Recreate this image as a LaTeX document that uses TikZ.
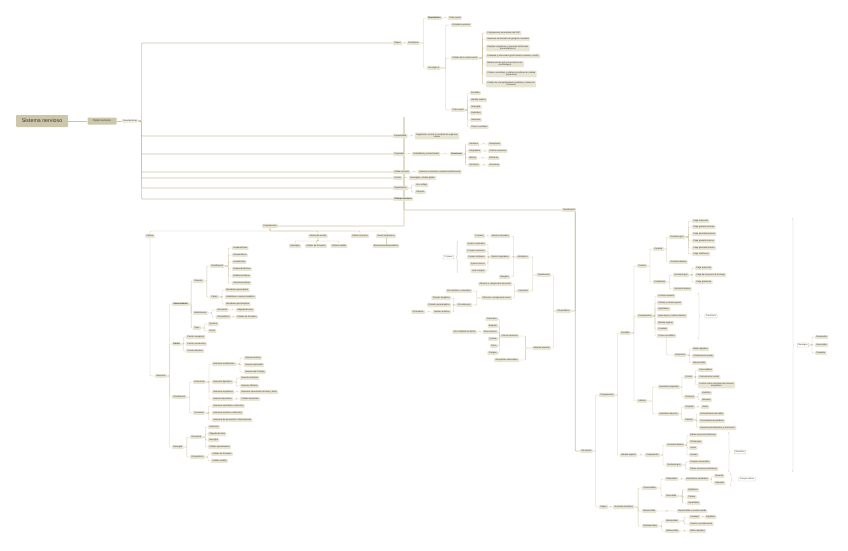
\documentclass[tikz,border=0pt]{standalone}
\usepackage{fontspec}
\setmainfont{Liberation Sans}
\usetikzlibrary{calc, backgrounds, decorations.pathreplacing}
\definecolor{MapLine}{HTML}{CDC4A5}
\definecolor{MapFill}{HTML}{E9E5D5}
\definecolor{MapRoot}{HTML}{CCC6AA}
\definecolor{MapSoft}{HTML}{F0EDE3}
\definecolor{MapText}{HTML}{3A3832}
\tikzset{
    % Topic boxes - soft rounded corners
    topic/.style={
        rectangle,
        rounded corners=0.8mm,
        fill=MapFill,
        text=MapText,
        font=\fontsize{6}{6.6}\selectfont,
        inner xsep=1.3mm,
        inner ysep=1.1mm,
        align=center
    },
    rtopic/.style={topic, anchor=west},
    ltopic/.style={topic, anchor=east},
    rkey/.style={rtopic, font=\fontsize{6}{6.6}\selectfont\bfseries},
    rootbox/.style={
        topic,
        fill=MapRoot,
        minimum width=52mm,
        minimum height=12mm,
        font=\fontsize{15}{16}\selectfont
    },
    mainbox/.style={
        topic,
        fill=MapRoot,
        minimum width=29mm,
        minimum height=7mm,
        font=\fontsize{7.5}{8}\selectfont
    },
    summary/.style={topic, fill=white, draw=MapLine, line width=0.3mm},
    % Connectors - elbow lines
    plainline/.style={draw=MapLine, line width=0.3mm, rounded corners=0.8mm},
    link/.style={
        plainline,
        to path={-| ($(\tikztostart)!.5!(\tikztotarget)$) |- (\tikztotarget)}
    },
    mainlink/.style={link, line width=0.6mm},
    elbow/.style={
        draw=MapLine,
        line width=0.6mm,
        rounded corners=1mm,
        to path={-- ++(#1,0) |- (\tikztotarget)}
    },
    downlink/.style={
        plainline,
        to path={|- ($(\tikztostart)!.5!(\tikztotarget)$) -| (\tikztotarget)}
    },
    summarybrace/.style={
        draw=MapLine,
        line width=0.3mm,
        decorate,
        decoration={brace, amplitude=1.8mm}
    }
}

\begin{document}
\begin{tikzpicture}[x=1mm, y=-1mm]
    \useasboundingbox (0,0) rectangle (848,550);

    % root and first level
    \node[rootbox] (root) at (42,121) {Sistema nervioso};
    \node[mainbox] (tejido) at (102,121) {Tejido nervioso};
    \node[topic, fill=MapSoft] (caract) at (130,121) {Características};

    \node[rtopic] (origen) at (393,43) {Origen};
    \node[rtopic] (especial) at (393,136) {Especialidad};
    \node[rtopic] (propiedad) at (393,154) {Propiedad};
    \node[rtopic] (celula) at (393,172) {Célula nerviosa};
    \node[rtopic] (sosten) at (393,178) {Sostén};
    \node[rtopic] (organiza) at (393,188) {Organización};
    \node[rkey] (snbold) at (393,199) {Sistema nervioso};
    \coordinate (snup) at (404,117);

    % Origen
    \node[rtopic] (ecto) at (407,43) {Ectodermo};
    \node[rkey] (neurula) at (427,18) {Neurulación};
    \node[rtopic] (tubo1) at (448,18) {Tubo neural};
    \node[rtopic] (daorigen) at (427,68) {Da origen a};
    \node[rtopic] (ectext) at (451,25) {Ectodermo externo};
    \node[rtopic] (cresta) at (451,58) {Células de la cresta neural};
    \node[rtopic] (tubo2) at (451,110) {Tubo neural};

    \node[rtopic] (cr1) at (486,33) {Componentes sensoriales del SNP};
    \node[rtopic] (cr2) at (486,39) {Neuronas sensoriales de ganglios craneales};
    \node[rtopic] (cr3) at (486,48) {Ganglios simpáticos y neuronas autónomas\\(parasimpáticos)};
    \node[rtopic] (cr4) at (486,56) {Piamadre y aracnoides (parte anterior cabeza y cuello)};
    \node[rtopic] (cr5) at (486,64) {Melanocitos de piel y mucosas (oral y\\nasofaringea)};
    \node[rtopic] (cr6) at (486,74) {Células cromafines y células cromafines de médula\\suprarrenal};
    \node[rtopic] (cr7) at (486,84) {Células de acompañamiento (satélites y células de\\Schwann)};

    \node[rtopic] (tn1) at (470,93) {Encéfalo};
    \node[rtopic] (tn2) at (470,100) {Médula espinal};
    \node[rtopic] (tn3) at (470,107) {Neuroglia};
    \node[rtopic] (tn4) at (470,113) {Epéndimo};
    \node[rtopic] (tn5) at (470,120) {Neuronas};
    \node[rtopic] (tn6) at (470,127) {Plexos coroideos};

    % Especialidad, Propiedad, Organizacion
    \node[rtopic] (regula) at (415,136) {Regulación, control y coordinación orgánica,\\reposo};
    \node[rtopic] (irrita) at (412,154) {Irritabilidad y conductividad};
    \node[rkey] (funciones) at (450,154) {Funciones};
    \node[rtopic] (sensit) at (468,144) {Sensitiva};
    \node[rtopic] (integ) at (468,151) {Integradora};
    \node[rtopic] (motora) at (468,158) {Motora};
    \node[rtopic] (secret) at (468,165) {Secretora};
    \node[rtopic] (recep) at (488,144) {Receptores};
    \node[rtopic] (centros) at (488,151) {Centros nerviosos};
    \node[rtopic] (efect) at (488,158) {Efectores};
    \node[rtopic] (hormon) at (488,165) {Hormonas};
    \node[rtopic] (neurodef) at (418,172) {Neurona o neurocito, unidad morfofuncional};
    \node[rtopic] (gliadef) at (409,178) {Neuroglias, células gliales};
    \node[rtopic] (arco) at (415,185) {Arco reflejo};
    \node[rtopic] (sinap0) at (415,192) {Sinapsis};

    % Componentes (left part)
    \node[topic] (compL) at (270,226) {Componentes};
    \node[topic] (celulas) at (150,236) {Células};
    \node[topic] (csosten) at (318,236) {Células de sostén};
    \node[topic] (fibras) at (360,236) {Fibras nerviosas};
    \node[topic] (vasos) at (386,236) {Vasos sanguíneos};
    \node[topic] (neuroglS) at (295,246) {Neuroglia};
    \node[topic] (schwS) at (316,246) {Células de Schwann};
    \node[topic] (satelS) at (339,246) {Células satélite};
    \node[topic] (barrera) at (386,246) {Barrera hematoencefálica};

    \node[rtopic] (neuronas) at (155,376) {Neuronas};
    \node[rkey] (general) at (172,304) {Generalidades};
    \node[rkey] (partesN) at (172,344) {Partes};
    \node[rtopic] (clasN) at (172,397) {Clasificación};
    \node[rtopic] (neurogN) at (172,447) {Neuroglia};

    \node[rtopic] (sinapsis) at (193,281) {Sinapsis};
    \node[rtopic] (mielin) at (193,313) {Mielinización};
    \node[rtopic] (tipos) at (193,328) {Tipos};
    \node[rtopic] (clasS) at (210,266) {Clasificación};
    \node[rtopic] (partesS) at (210,297) {Partes};
    \node[rtopic] (sy1) at (232,248) {Axodendríticas};
    \node[rtopic] (sy2) at (232,255) {Axosomáticas};
    \node[rtopic] (sy3) at (232,262) {Axoaxónicas};
    \node[rtopic] (sy4) at (232,269) {Dendrodendríticas};
    \node[rtopic] (sy5) at (232,276) {Dendrosomáticas};
    \node[rtopic] (sy6) at (232,283) {Somatosomáticas};
    \node[rtopic] (mb1) at (225,290) {Membrana presináptica};
    \node[rtopic] (mb2) at (225,297) {Hendidura o espacio sináptico};
    \node[rtopic] (mb3) at (225,304) {Membrana postsináptica};
    \node[rtopic] (sncM) at (216,310) {SN central};
    \node[rtopic] (snpM) at (216,317) {SN periférico};
    \node[rtopic] (oligoM) at (236,310) {Oligodendrocitos};
    \node[rtopic] (schwM) at (236,317) {Células de Schwann};
    \node[rtopic] (quim) at (208,324) {Química};
    \node[rtopic] (fis) at (208,331) {Física};

    \node[rtopic] (po1) at (186,337) {Porción receptora};
    \node[rtopic] (po2) at (186,344) {Porción conductora};
    \node[rtopic] (po3) at (186,351) {Porción efectora};

    \node[rtopic] (estruct) at (193,382) {Estructural};
    \node[rtopic] (funcN) at (193,413) {Funcional};
    \node[rtopic] (multi) at (212,364) {Neuronas multipolares};
    \node[rtopic] (bip) at (212,382) {Neuronas bipolares};
    \node[rtopic] (unip) at (212,392) {Neuronas unipolares};
    \node[rtopic] (anax) at (212,399) {Neurona anaxónica};
    \node[rtopic] (mu1) at (244,358) {Neurona motora};
    \node[rtopic] (mu2) at (244,365) {Neurona piramidal};
    \node[rtopic] (mu3) at (244,372) {Neurona de Purkinje};
    \node[rtopic] (bi1) at (240,378) {Neurona retiniana};
    \node[rtopic] (bi2) at (240,386) {Neurona olfatoria};
    \node[rtopic] (un1) at (240,392) {Neuronas sensoriales de tacto y dolor};
    \node[rtopic] (an1) at (240,399) {Células amacrinas};
    \node[rtopic] (fu1) at (212,406) {Neuronas sensitivas o aferentes};
    \node[rtopic] (fu2) at (212,413) {Neuronas motoras o eferentes};
    \node[rtopic] (fu3) at (212,420) {Neuronas de asociación o interneuronas};

    \node[rtopic] (sncN) at (190,437) {SN central};
    \node[rtopic] (snpN) at (190,457) {SN periférico};
    \node[rtopic] (gc1) at (208,427) {Astrocitos};
    \node[rtopic] (gc2) at (208,434) {Oligodendrocitos};
    \node[rtopic] (gc3) at (208,440) {Microglía};
    \node[rtopic] (gc4) at (208,447) {Células ependimarias};
    \node[rtopic] (gp1) at (211,454) {Células de Schwann};
    \node[rtopic] (gp2) at (211,461) {Células satélite};

    % Clasificacion
    \node[topic] (clasif) at (569,210) {Clasificación};

    % SN periferico (grows to the left)
    \node[ltopic] (snp) at (571,311) {SN periférico};
    \node[ltopic] (clasP) at (551,275) {Clasificación};
    \node[ltopic] (sistP) at (551,348) {Sistema vascular};
    \node[ltopic] (anat) at (529,257) {Anatómica};
    \node[ltopic] (funcP) at (529,291) {Funcional};
    \node[ltopic] (ncran) at (510,236) {Nervios craneales};
    \node[ltopic] (nraq) at (510,257) {Nervios raquídeos};
    \node[ltopic] (gangl) at (510,277) {Ganglios};
    \node[ltopic] (par12) at (485,236) {12 pares};
    \node[ltopic] (rq1) at (486,244) {8 pares cervicales};
    \node[ltopic] (rq2) at (486,251) {12 pares torácicos};
    \node[ltopic] (rq3) at (486,257) {5 pares lumbares};
    \node[ltopic] (rq4) at (486,264) {5 pares sacros};
    \node[ltopic] (rq5) at (486,271) {1 par coxígeo};
    \node[summary, anchor=east] (pares31) at (454,257) {31 pares};
    \node[ltopic] (afer) at (512,284) {Aferente o componente sensorial};
    \node[ltopic] (efer) at (512,298) {Eferente o componente motor};
    \node[ltopic] (snsom) at (472,291) {SN somático o voluntario};
    \node[ltopic] (snaut) at (472,305) {SN autónomo};
    \node[ltopic] (divsim) at (451,298) {División simpática};
    \node[ltopic] (divpar) at (451,305) {División parasimpática};
    \node[ltopic] (divent) at (451,312) {División entérica};
    \node[ltopic] (snent) at (425,312) {SN entérico};
    \node[ltopic] (plexos) at (519,336) {Plexos nerviosos};
    \node[ltopic] (recsen) at (519,360) {Receptores sensoriales};
    \node[ltopic] (px1) at (498,319) {Cervicales};
    \node[ltopic] (px2) at (498,326) {Braquial};
    \node[ltopic] (px3) at (498,332) {Zona torácica};
    \node[ltopic] (px4) at (498,339) {Lumbar};
    \node[ltopic] (px5) at (498,346) {Sacro};
    \node[ltopic] (px6) at (498,353) {Coxígeo};
    \node[ltopic] (noplex) at (477,332) {NO FORMAN PLEXOS};

    % SN central
    \node[rtopic] (snc) at (580,451) {SN central};
    \node[rtopic] (compC) at (599,395) {Componentes};
    \node[rtopic] (origC) at (599,507) {Origen};
    \node[rtopic] (encef) at (620,333) {Encéfalo};
    \node[rtopic] (medula) at (620,455) {Médula espinal};

    \node[rtopic] (corteza) at (637,266) {Corteza};
    \node[rtopic] (compE) at (637,316) {Componentes};
    \node[rtopic] (lobulos) at (637,401) {Lóbulos};
    \node[rtopic] (cerebral) at (653,249) {Cerebral};
    \node[rtopic] (cerebelosa) at (653,282) {Cerebelosa};
    \node[rtopic] (sg1) at (669,237) {Sustancia gris};
    \node[rtopic] (sb1) at (669,262) {Sustancia blanca};
    \node[rtopic] (ca1) at (692,221) {Capa molecular};
    \node[rtopic] (ca2) at (692,227) {Capa granular externa};
    \node[rtopic] (ca3) at (692,234) {Capa piramidal externa};
    \node[rtopic] (ca4) at (692,241) {Capa granular interna};
    \node[rtopic] (ca5) at (692,248) {Capa piramidal interna};
    \node[rtopic] (ca6) at (692,254) {Capa multiforme};
    \node[rtopic] (sg2) at (673,275) {Sustancia gris};
    \node[rtopic] (sb2) at (673,289) {Sustancia blanca};
    \node[rtopic] (ce1) at (695,268) {Capa molecular};
    \node[rtopic] (ce2) at (695,275) {Capa de neuronas de Purkinje};
    \node[rtopic] (ce3) at (695,282) {Capa granulosa};

    \node[rtopic] (en1) at (657,296) {Corteza cerebral};
    \node[rtopic] (en2) at (657,303) {Tálamo y núcleos grises};
    \node[rtopic] (en3) at (657,309) {Hipotálamo};
    \node[rtopic] (en4) at (657,316) {Hipocampo y sistema límbico};
    \node[rtopic] (en5) at (657,323) {Médula espinal};
    \node[rtopic] (en6) at (657,329) {Cerebelo};
    \node[rtopic] (tronco) at (657,336) {Tronco encefálico};
    \node[summary] (funcE) at (711,316) {Funciones};
    \node[rtopic] (estr) at (674,355) {Estructura};
    \node[rtopic] (tr1) at (692,349) {Bulbo raquídeo};
    \node[rtopic] (tr2) at (692,356) {Protuberancia anular};
    \node[rtopic] (tr3) at (692,363) {Mesencéfalo};

    \node[rtopic] (hizq) at (658,387) {Hemisferio izquierdo};
    \node[rtopic] (hder) at (658,414) {Hemisferio derecho};
    \node[rtopic] (frontal) at (684,377) {Frontal};
    \node[rtopic] (temporal) at (684,397) {Temporal};
    \node[rtopic] (occip) at (684,407) {Occipital};
    \node[rtopic] (pariet) at (684,420) {Parietal};
    \node[rtopic] (fr1) at (698,370) {Personalidad};
    \node[rtopic] (fr2) at (698,377) {Comunicación verbal};
    \node[rtopic] (fr3) at (698,385) {Control motor voluntario del músculo\\esquelético};
    \node[rtopic] (te1) at (701,393) {Audición};
    \node[rtopic] (te2) at (701,400) {Memoria};
    \node[rtopic] (oc1) at (701,407) {Visión};
    \node[rtopic] (pa1) at (699,414) {Entendimiento del habla};
    \node[rtopic] (pa2) at (699,421) {Formulación de palabras};
    \node[rtopic] (pa3) at (699,428) {Expresar pensamientos y emociones};

    \node[rtopic] (compos) at (645,455) {Composición};
    \node[rtopic] (sbM) at (666,445) {Sustancia blanca};
    \node[rtopic] (sgM) at (666,465) {Sustancia gris};
    \node[rtopic] (mb1M) at (689,435) {Fibras nerviosas mielínicas};
    \node[rtopic] (mb2M) at (689,442) {Cilindroejes};
    \node[rtopic] (mb3M) at (689,448) {Vasos};
    \node[rtopic] (mb4M) at (689,455) {Axones};
    \node[rtopic] (mg1M) at (689,462) {Cuerpos neuronales};
    \node[rtopic] (mg2M) at (689,469) {Fibras nerviosas amielínicas};
    \node[summary] (envol) at (740,452) {Envoltura};

    \node[rtopic] (vesic) at (613,507) {Vesículas primitivas};
    \node[rtopic] (prosen) at (642,488) {Prosencéfalo};
    \node[rtopic] (mesen) at (642,511) {Mesencéfalo};
    \node[rtopic] (romben) at (642,526) {Rombencéfalo};
    \node[rtopic] (telen) at (665,479) {Telencéfalo};
    \node[rtopic] (dien) at (665,496) {Diencéfalo};
    \node[rtopic] (hemc) at (685,479) {Hemisferios cerebrales};
    \node[rtopic] (hder2) at (714,476) {Derecho};
    \node[rtopic] (hizq2) at (714,483) {Izquierdo};
    \node[summary] (calloso) at (747,479) {Cuerpo calloso};
    \node[rtopic] (di1) at (687,490) {Epitálamo};
    \node[rtopic] (di2) at (687,497) {Tálamo};
    \node[rtopic] (di3) at (687,503) {Hipotálamo};
    \node[rtopic] (mesM) at (677,511) {Mesencéfalo o cerebro medio};
    \node[rtopic] (meten) at (665,521) {Metencéfalo};
    \node[rtopic] (mielen) at (665,531) {Mielencéfalo};
    \node[rtopic] (cerebelo) at (689,517) {Cerebelo};
    \node[rtopic] (puente) at (689,524) {Puente o protuberancia};
    \node[rtopic] (equil) at (705,517) {Equilibrio};
    \node[rtopic] (bulbo) at (689,531) {Bulbo raquídeo};

    % Meninges
    \node[summary] (meninges) at (803,345) {Meninges};
    \node[rtopic] (me1) at (815,337) {Duramadre};
    \node[rtopic] (me2) at (815,345) {Aracnoides};
    \node[rtopic] (me3) at (815,353) {Piamadre};

    \begin{scope}[on background layer]
        \fill[white] (0,0) rectangle (848,550);
        \draw[mainlink] (root.east) -- (tejido.west);
        \draw[mainlink] (tejido.east) -- (caract.west);
        \foreach \c in {origen,especial,propiedad,celula,sosten,organiza,snbold}
            \draw[elbow=3] (caract.east) to (\c.west);
        \draw[plainline, line width=0.6mm] (snup) -- (snup |- clasif.west) -- (clasif.west);
        \draw[plainline, line width=0.6mm] (compL.east) -| (snup);

        % Origen
        \draw[link] (origen.east) to (ecto.west);
        \foreach \c in {neurula,daorigen} \draw[link] (ecto.east) to (\c.west);
        \draw[link] (neurula.east) to (tubo1.west);
        \foreach \c in {ectext,cresta,tubo2} \draw[link] (daorigen.east) to (\c.west);
        \foreach \c in {cr1,cr2,cr3,cr4,cr5,cr6,cr7} \draw[link] (cresta.east) to (\c.west);
        \foreach \c in {tn1,tn2,tn3,tn4,tn5,tn6} \draw[link] (tubo2.east) to (\c.west);
        \draw[link] (especial.east) to (regula.west);
        \draw[link] (propiedad.east) to (irrita.west);
        \draw[link] (irrita.east) to (funciones.west);
        \foreach \c in {sensit,integ,motora,secret} \draw[link] (funciones.east) to (\c.west);
        \draw[link] (sensit.east) to (recep.west);
        \draw[link] (integ.east) to (centros.west);
        \draw[link] (motora.east) to (efect.west);
        \draw[link] (secret.east) to (hormon.west);
        \draw[link] (celula.east) to (neurodef.west);
        \draw[link] (sosten.east) to (gliadef.west);
        \foreach \c in {arco,sinap0} \draw[link] (organiza.east) to (\c.west);

        % Componentes
        \foreach \c in {celulas,csosten,fibras,vasos} \draw[downlink] (compL.south) to (\c.north);
        \foreach \c in {neuroglS,schwS,satelS} \draw[downlink] (csosten.south) to (\c.north);
        \draw[downlink] (vasos.south) to (barrera.north);
        \draw[plainline] (celulas.south) |- (neuronas.west);
        \foreach \c in {general,partesN,clasN,neurogN} \draw[link] (neuronas.east) to (\c.west);
        \foreach \c in {sinapsis,mielin,tipos} \draw[link] (general.east) to (\c.west);
        \foreach \c in {clasS,partesS} \draw[link] (sinapsis.east) to (\c.west);
        \foreach \c in {sy1,sy2,sy3,sy4,sy5,sy6} \draw[link] (clasS.east) to (\c.west);
        \foreach \c in {mb1,mb2,mb3} \draw[link] (partesS.east) to (\c.west);
        \foreach \c in {sncM,snpM} \draw[link] (mielin.east) to (\c.west);
        \draw[link] (sncM.east) to (oligoM.west);
        \draw[link] (snpM.east) to (schwM.west);
        \foreach \c in {quim,fis} \draw[link] (tipos.east) to (\c.west);
        \foreach \c in {po1,po2,po3} \draw[link] (partesN.east) to (\c.west);
        \foreach \c in {estruct,funcN} \draw[link] (clasN.east) to (\c.west);
        \foreach \c in {multi,bip,unip,anax} \draw[link] (estruct.east) to (\c.west);
        \foreach \c in {mu1,mu2,mu3} \draw[link] (multi.east) to (\c.west);
        \foreach \c in {bi1,bi2} \draw[link] (bip.east) to (\c.west);
        \draw[link] (unip.east) to (un1.west);
        \draw[link] (anax.east) to (an1.west);
        \foreach \c in {fu1,fu2,fu3} \draw[link] (funcN.east) to (\c.west);
        \foreach \c in {sncN,snpN} \draw[link] (neurogN.east) to (\c.west);
        \foreach \c in {gc1,gc2,gc3,gc4} \draw[link] (sncN.east) to (\c.west);
        \foreach \c in {gp1,gp2} \draw[link] (snpN.east) to (\c.west);

        % Clasificacion
        \draw[plainline, line width=0.6mm] ([xshift=-1mm]clasif.south east) |- (snp.east);
        \draw[plainline, line width=0.6mm] ([xshift=-1mm]clasif.south east) |- (snc.west);

        % SN periferico
        \foreach \c in {clasP,sistP} \draw[link] (snp.west) to (\c.east);
        \foreach \c in {anat,funcP} \draw[link] (clasP.west) to (\c.east);
        \foreach \c in {ncran,nraq,gangl} \draw[link] (anat.west) to (\c.east);
        \draw[link] (ncran.west) to (par12.east);
        \foreach \c in {rq1,rq2,rq3,rq4,rq5} \draw[link] (nraq.west) to (\c.east);
        \draw[summarybrace] (458,273) -- (458,241);
        \foreach \c in {afer,efer} \draw[link] (funcP.west) to (\c.east);
        \foreach \c in {snsom,snaut} \draw[link] (efer.west) to (\c.east);
        \foreach \c in {divsim,divpar,divent} \draw[link] (snaut.west) to (\c.east);
        \draw[link] (divent.west) to (snent.east);
        \foreach \c in {plexos,recsen} \draw[link] (sistP.west) to (\c.east);
        \foreach \c in {px1,px2,px3,px4,px5,px6} \draw[link] (plexos.west) to (\c.east);
        \draw[link] (px3.west) to (noplex.east);

        % SN central
        \foreach \c in {compC,origC} \draw[link] (snc.east) to (\c.west);
        \foreach \c in {encef,medula} \draw[link] (compC.east) to (\c.west);
        \foreach \c in {corteza,compE,lobulos} \draw[link] (encef.east) to (\c.west);
        \foreach \c in {cerebral,cerebelosa} \draw[link] (corteza.east) to (\c.west);
        \foreach \c in {sg1,sb1} \draw[link] (cerebral.east) to (\c.west);
        \foreach \c in {ca1,ca2,ca3,ca4,ca5,ca6} \draw[link] (sg1.east) to (\c.west);
        \foreach \c in {sg2,sb2} \draw[link] (cerebelosa.east) to (\c.west);
        \foreach \c in {ce1,ce2,ce3} \draw[link] (sg2.east) to (\c.west);
        \foreach \c in {en1,en2,en3,en4,en5,en6,tronco} \draw[link] (compE.east) to (\c.west);
        \draw[summarybrace] (698,293) -- (698,339);
        \draw[plainline] (tronco.south) |- (estr.west);
        \foreach \c in {tr1,tr2,tr3} \draw[link] (estr.east) to (\c.west);
        \foreach \c in {hizq,hder} \draw[link] (lobulos.east) to (\c.west);
        \foreach \c in {frontal,temporal} \draw[link] (hizq.east) to (\c.west);
        \foreach \c in {occip,pariet} \draw[link] (hder.east) to (\c.west);
        \foreach \c in {fr1,fr2,fr3} \draw[link] (frontal.east) to (\c.west);
        \foreach \c in {te1,te2} \draw[link] (temporal.east) to (\c.west);
        \draw[link] (occip.east) to (oc1.west);
        \foreach \c in {pa1,pa2,pa3} \draw[link] (pariet.east) to (\c.west);
        \draw[link] (medula.east) to (compos.west);
        \foreach \c in {sbM,sgM} \draw[link] (compos.east) to (\c.west);
        \foreach \c in {mb1M,mb2M,mb3M,mb4M} \draw[link] (sbM.east) to (\c.west);
        \foreach \c in {mg1M,mg2M} \draw[link] (sgM.east) to (\c.west);
        \draw[summarybrace] (728,432) -- (728,472);
        \draw[link] (origC.east) to (vesic.west);
        \foreach \c in {prosen,mesen,romben} \draw[link] (vesic.east) to (\c.west);
        \foreach \c in {telen,dien} \draw[link] (prosen.east) to (\c.west);
        \draw[link] (telen.east) to (hemc.west);
        \foreach \c in {hder2,hizq2} \draw[link] (hemc.east) to (\c.west);
        \draw[summarybrace] (730,473) -- (730,486);
        \foreach \c in {di1,di2,di3} \draw[link] (dien.east) to (\c.west);
        \draw[link] (mesen.east) to (mesM.west);
        \foreach \c in {meten,mielen} \draw[link] (romben.east) to (\c.west);
        \foreach \c in {cerebelo,puente} \draw[link] (meten.east) to (\c.west);
        \draw[link] (cerebelo.east) to (equil.west);
        \draw[link] (mielen.east) to (bulbo.west);
        \draw[summarybrace] (792,218) -- (792,472);
        \foreach \c in {me1,me2,me3} \draw[link] (meninges.east) to (\c.west);
    \end{scope}
\end{tikzpicture}
\end{document}
